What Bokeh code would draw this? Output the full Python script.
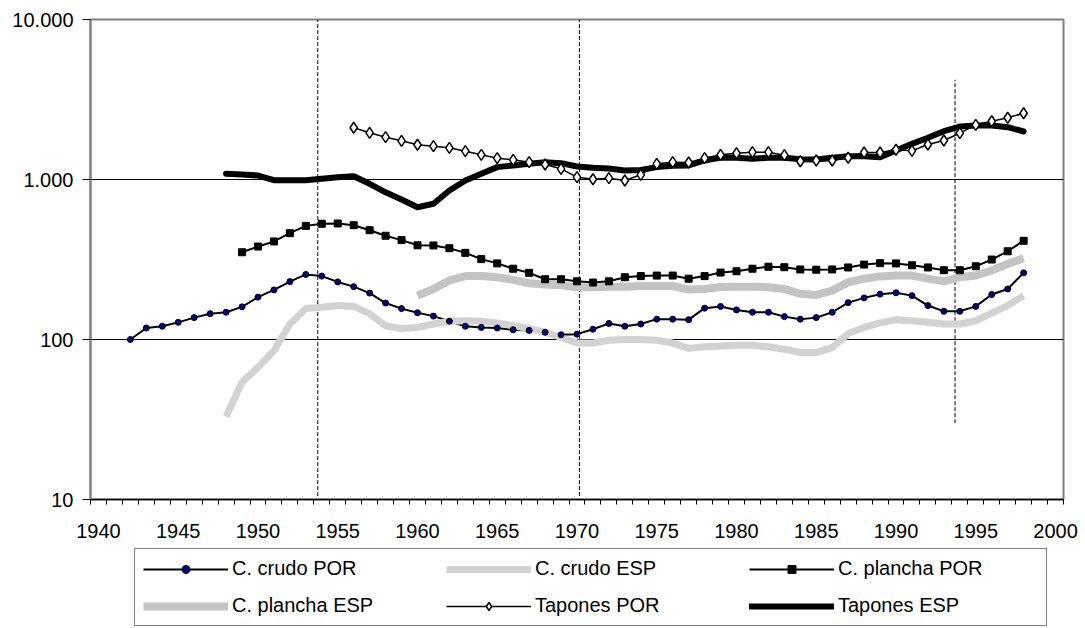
from bokeh.plotting import figure
from bokeh.models import FixedTicker, Legend, LegendItem, Range1d
from bokeh.layouts import column
from bokeh.embed import file_html
from bokeh.resources import INLINE

# ---- data ----
years_crudo_por = list(range(1942, 1999))
crudo_por = [100, 118, 121, 128, 137, 145, 148, 160, 184, 204,
             230, 255, 249, 229, 214, 195, 169, 156, 147, 140,
             130, 121, 119, 118, 115, 114, 111, 107, 108, 116,
             126, 121, 125, 134, 134, 133, 157, 161, 153, 148,
             148, 139, 134, 137, 148, 170, 182, 192, 196, 188,
             163, 150, 150, 161, 191, 207, 261]

years_crudo_esp = list(range(1948, 1999))
crudo_esp = [33, 54, 67, 85, 125, 156, 159, 163, 161, 145,
             122, 117, 119, 125, 130, 131, 130, 127, 122, 117,
             111, 103, 95, 95, 99, 100, 100, 99, 95, 88,
             90, 91, 92, 92, 90, 87, 83, 83, 89, 109,
             119, 127, 133, 131, 128, 125, 125, 131, 146, 163,
             188]

years_plancha_por = list(range(1949, 1999))
plancha_por = [351, 381, 410, 462, 513, 529, 531, 518, 482, 445,
               418, 388, 387, 372, 348, 318, 299, 277, 261, 238,
               238, 231, 227, 231, 245, 249, 251, 251, 240, 249,
               262, 267, 277, 285, 283, 274, 273, 274, 282, 294,
               300, 299, 291, 282, 271, 271, 287, 316, 356, 414]

years_plancha_esp = list(range(1960, 1999))
plancha_esp = [188, 207, 234, 249, 249, 245, 236, 225, 221, 218,
               212, 212, 214, 214, 216, 216, 216, 205, 207, 213,
               214, 214, 212, 207, 193, 190, 202, 228, 240, 248,
               251, 251, 240, 231, 245, 251, 270, 297, 322]

years_tapones_por = list(range(1956, 1999))
tapones_por = [2105, 1958, 1838, 1745, 1648, 1615, 1578, 1503, 1426, 1359,
               1327, 1283, 1241, 1166, 1034, 1004, 1019, 986, 1070, 1253,
               1283, 1277, 1359, 1426, 1459, 1482, 1482, 1419, 1301, 1315,
               1315, 1367, 1475, 1475, 1534, 1511, 1655, 1753, 1947, 2197,
               2313, 2432, 2596]

years_tapones_esp = list(range(1948, 1999))
tapones_esp = [1086, 1076, 1059, 990, 988, 990, 1010, 1033, 1049, 940,
               832, 750, 671, 705, 853, 986, 1086, 1195, 1223, 1254,
               1283, 1265, 1206, 1183, 1172, 1138, 1147, 1195, 1219, 1223,
               1315, 1370, 1367, 1346, 1367, 1367, 1340, 1333, 1367, 1398,
               1398, 1377, 1517, 1671, 1822, 2005, 2143, 2176, 2176, 2122,
               1995]

series_labels = ["C. crudo POR", "C. crudo ESP", "C. plancha POR",
                 "C. plancha ESP", "Tapones POR", "Tapones ESP"]

x_tick_years = list(range(1940, 2001, 5))
x_category_bounds = [y - 0.5 for y in range(1940, 2002)]
y_ticks = [10, 100, 1000, 10000]
y_tick_labels = ["10", "100", "1.000", "10.000"]
y_grid_values = [100, 1000]

dash_years = [1953.75, 1970.15, 1993.7]
dash_top = [10000, 10000, 4200]
dash_bottom = [10.5, 10.5, 30]

FONT = "Liberation Sans"
FS = "20px"
NAN = float("nan")

# one style per series, shared by the chart and its legend
styles = [
    dict(line=dict(line_color="black", line_width=2),
         marker=dict(marker="circle", size=6, fill_color="#000080",
                     line_color="black", line_width=1)),
    dict(line=dict(line_color="#d2d2d2", line_width=7), marker=None),
    dict(line=dict(line_color="black", line_width=2),
         marker=dict(marker="square", size=7, fill_color="black",
                     line_color="black", line_width=1)),
    dict(line=dict(line_color="#c4c4c4", line_width=8), marker=None),
    dict(line=dict(line_color="black", line_width=1.5),
         marker=dict(marker="diamond", size=11, fill_color="white",
                     line_color="black", line_width=1.5)),
    dict(line=dict(line_color="black", line_width=6, line_cap="round",
                   line_join="round"), marker=None),
]
series_x = [years_crudo_por, years_crudo_esp, years_plancha_por,
            years_plancha_esp, years_tapones_por, years_tapones_esp]
series_y = [crudo_por, crudo_esp, plancha_por, plancha_esp,
            tapones_por, tapones_esp]

p = figure(width=1083, height=545, y_axis_type="log",
           x_range=Range1d(1939.5, 2000.5), y_range=Range1d(10, 10000),
           output_backend="svg", toolbar_location=None,
           min_border_left=90, min_border_right=20,
           min_border_top=19, min_border_bottom=46)
p.background_fill_color = "white"
p.border_fill_color = "white"
p.outline_line_color = "#808080"
p.outline_line_width = 2

# axes
xa = p.xaxis[0]
xa.ticker = FixedTicker(ticks=x_tick_years, minor_ticks=x_category_bounds)
xa.major_tick_out = 0
xa.major_tick_in = 0
xa.minor_tick_out = 5
xa.minor_tick_in = 0
xa.minor_tick_line_color = "black"
xa.axis_line_color = "black"
xa.axis_line_width = 1.5
xa.major_label_standoff = 19
xa.major_label_text_font = FONT
xa.major_label_text_font_size = FS
xa.major_label_text_color = "black"

ya = p.yaxis[0]
ya.ticker = FixedTicker(ticks=y_ticks, minor_ticks=[])
ya.major_label_overrides = {t: s for t, s in zip(y_ticks, y_tick_labels)}
ya.major_tick_out = 8
ya.major_tick_in = 0
ya.major_tick_line_color = "black"
ya.minor_tick_line_color = None
ya.axis_line_color = "#808080"
ya.axis_line_width = 2
ya.major_label_standoff = 9
ya.major_label_text_font = FONT
ya.major_label_text_font_size = FS
ya.major_label_text_color = "black"

p.xgrid.visible = False
p.ygrid[0].ticker = FixedTicker(ticks=y_grid_values)
p.ygrid[0].grid_line_color = "black"
p.ygrid[0].grid_line_width = 1
p.ygrid[0].grid_line_alpha = 1

# dashed reference lines
p.segment(x0=dash_years, x1=dash_years, y0=dash_bottom, y1=dash_top,
          line_color="black", line_width=1, line_dash="4 2")

# all lines first, then the markers on top
for xs, ys, st in zip(series_x, series_y, styles):
    p.line(xs, ys, **st["line"])
for xs, ys, st in zip(series_x, series_y, styles):
    if st["marker"] is not None:
        p.scatter(xs, ys, **st["marker"])

# legend strip below the chart (renderers carry only the styles, no data)
p2 = figure(width=1083, height=83, x_range=Range1d(0, 1), y_range=Range1d(0, 1),
            output_backend="svg", toolbar_location=None, min_border=0,
            x_axis_location=None, y_axis_location=None)
p2.outline_line_color = None
p2.grid.visible = False
p2.background_fill_color = "white"
p2.border_fill_color = "white"

items = []
for label, st in zip(series_labels, styles):
    rs = [p2.line([NAN], [NAN], **st["line"])]
    if st["marker"] is not None:
        rs.append(p2.scatter([NAN], [NAN], **st["marker"]))
    items.append(LegendItem(label=label, renderers=rs))

legend = Legend(items=items, location=(44, 2), orientation="horizontal",
                ncols=3, glyph_width=85, glyph_height=20, label_standoff=4,
                label_width=200, label_height=20, spacing=14, padding=8,
                margin=0, label_text_font=FONT, label_text_font_size=FS,
                label_text_color="black", border_line_color="black",
                border_line_width=1, background_fill_color="white",
                background_fill_alpha=1)
p2.add_layout(legend)

layout = column(p, p2, spacing=0)
open("out.html", "w").write(file_html(layout, INLINE))
